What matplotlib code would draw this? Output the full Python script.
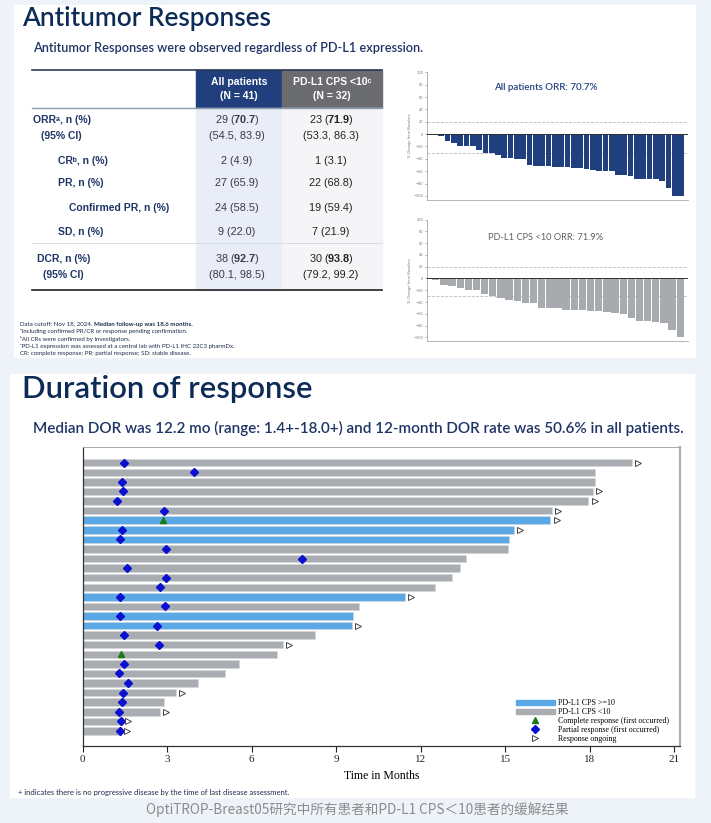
import matplotlib
matplotlib.use("Agg")
import matplotlib.pyplot as plt
from matplotlib.patches import Rectangle, Patch
from matplotlib.lines import Line2D

plt.rcParams['mathtext.fontset'] = 'custom'
plt.rcParams['mathtext.rm'] = 'Liberation Sans'
plt.rcParams['mathtext.bf'] = 'Liberation Sans:bold'

W, H = 711, 823

# ---------------- data ----------------
row_labels = ["ORRᵃ, n (%)", "(95% CI)", "CRᵇ, n (%)", "PR, n (%)",
              "Confirmed PR, n (%)", "SD, n (%)", "DCR, n (%)", "(95% CI)"]
all_vals = [r"29 ($\mathbf{70.7}$)", "(54.5, 83.9)", "2 (4.9)", "27 (65.9)",
            "24 (58.5)", "9 (22.0)", r"38 ($\mathbf{92.7}$)", "(80.1, 98.5)"]
low_vals = [r"23 ($\mathbf{71.9}$)", "(53.3, 86.3)", "1 (3.1)", "22 (68.8)",
            "19 (59.4)", "7 (21.9)", r"30 ($\mathbf{93.8}$)", "(79.2, 99.2)"]
col_heads = [("All patients", "(N = 41)"), ("PD-L1 CPS <10ᶜ", "(N = 32)")]

# best % change from baseline (waterfall)
wf_all = [-2, -3, -11, -15, -19, -19, -20, -26, -30, -30, -34, -38, -38, -41,
          -41, -50, -51, -51, -52, -53, -53, -54, -55, -55, -56, -58, -59,
          -59, -60, -66, -67, -68, -72, -72, -73, -73, -76, -87, -100, -100]
wf_low = [-3, -11, -13, -17, -20, -20, -27, -30, -34, -37, -38, -41, -42,
          -51, -51, -51, -53, -53, -53, -56, -56, -57, -59, -60, -67, -73,
          -73, -74, -75, -87, -100]

# duration of response swimmer plot (months), top row first
dor_end = [19.5, 18.2, 18.2, 18.1, 17.95, 16.65, 16.6, 15.3, 15.15, 15.1,
           13.6, 13.4, 13.1, 12.5, 11.45, 9.8, 9.6, 9.55, 8.25, 7.1, 6.9,
           5.55, 5.05, 4.1, 3.3, 2.9, 2.75, 1.4, 1.35]
cps_high = [0, 0, 0, 0, 0, 0, 1, 1, 1, 0, 0, 0, 0, 0, 1, 0, 1, 1, 0, 0, 0,
            0, 0, 0, 0, 0, 0, 0, 0]
first_resp = [1.48, 3.95, 1.40, 1.44, 1.21, 2.89, 2.86, 1.40, 1.34, 2.95,
              7.79, 1.58, 2.95, 2.75, 1.34, 2.93, 1.34, 2.65, 1.48, 2.71,
              1.38, 1.48, 1.31, 1.60, 1.44, 1.40, 1.31, 1.38, 1.34]
resp_type = ['PR'] * 29
resp_type[6] = 'CR'
resp_type[20] = 'CR'
ongoing = [1, 0, 0, 1, 1, 1, 1, 1, 0, 0, 0, 0, 0, 0, 1, 0, 0, 1, 0, 1, 0,
           0, 0, 0, 1, 0, 1, 1, 1]

navy = '#0d2b57'
lab_navy = '#1f3566'

fig = plt.figure(figsize=(W / 100, H / 100), dpi=100)
fig.patch.set_facecolor('#eef3f9')

bg = fig.add_axes([0, 0, 1, 1])
bg.set_xlim(0, W)
bg.set_ylim(H, 0)
bg.axis('off')


def box(x0, y0, x1, y1):
    return [x0 / W, 1 - y1 / H, (x1 - x0) / W, (y1 - y0) / H]


# white panels
bg.add_patch(Rectangle((14, 5), 681, 352, color='white', zorder=0))
bg.add_patch(Rectangle((10, 374), 684, 423, color='white', zorder=0))

# titles
bg.text(22, 18.5, "Antitumor Responses", fontsize=18.8, family='Lato', color=navy,
        va='center', fontweight='semibold')
bg.text(33, 48, "Antitumor Responses were observed regardless of PD-L1 expression.",
        fontsize=9.15, family='Lato', color=lab_navy, va='center', fontweight='semibold')
bg.text(22, 389, "Duration of response", fontsize=22.3, family='Lato', color=navy,
        va='center', fontweight='semibold')
bg.text(33, 428, "Median DOR was 12.2 mo (range: 1.4+-18.0+) and 12-month DOR rate was 50.6% in all patients.",
        fontsize=11, family='Lato', color=lab_navy, va='center', fontweight='semibold')

# ---------------- table ----------------
tx0, tx1 = 32, 382
c1, c2, c3 = 195.7, 282.3, 381.7
bg.add_patch(Rectangle((c1, 70), c2 - c1, 37.7, color='#203f7c', zorder=1))
bg.add_patch(Rectangle((c2, 70), c3 - c2, 37.7, color='#6b6c6f', zorder=1))
bg.add_patch(Rectangle((c1, 107.7), c2 - c1, 182.6, color='#e8edf7', zorder=1))
bg.add_patch(Rectangle((c2, 107.7), c3 - c2, 182.6, color='#f5f5f7', zorder=1))
bg.plot([tx0, tx1], [70, 70], color='#2b3b55', lw=1.2, zorder=2)
bg.plot([tx0, tx1], [107.7, 107.7], color='#8d99ae', lw=1.0, zorder=2)
bg.plot([tx0, tx1], [243.3, 243.3], color='#d3d7dd', lw=0.6, zorder=2)
bg.plot([tx0, tx1], [290.3, 290.3], color='#222222', lw=1.2, zorder=2)

hfont = dict(family=['Liberation Sans', 'DejaVu Sans'], fontsize=7.5,
             fontweight='bold', color='white', ha='center', va='center', zorder=3)
for (l1, l2), cx in zip(col_heads, [(c1 + c2) / 2, (c2 + c3) / 2]):
    bg.text(cx, 82.3, l1, **hfont)
    bg.text(cx, 95.7, l2, **hfont)

row_y = [120, 136, 160.7, 183.3, 207.7, 232.3, 259.3, 275]
row_x = [33.3, 40.7, 58.3, 58.3, 69.3, 58.3, 37.3, 42.7]
for lab, a, b, x, y in zip(row_labels, all_vals, low_vals, row_x, row_y):
    bg.text(x, y, lab, family=['Liberation Sans', 'DejaVu Sans'], fontsize=7.5,
            fontweight='bold', color=lab_navy, va='center', zorder=3)
    bg.text((c1 + c2) / 2 - 2, y, a, family='Liberation Sans', fontsize=7.8,
            color='#3a3a44', ha='center', va='center', zorder=3)
    bg.text((c2 + c3) / 2 - 1, y, b, family='Liberation Sans', fontsize=7.8,
            color='#222222', ha='center', va='center', zorder=3)

# footnotes
fn = dict(family=['Lato', 'DejaVu Sans'], fontsize=4.45, color='#1c2b4a', va='center')
r = fig.canvas.get_renderer()
t = bg.text(20, 324, "Data cutoff: Nov 18, 2024.", **fn)
w = t.get_window_extent(r).width
bg.text(20 + w + 1.5, 324, "Median follow-up was 18.6 months.", fontweight='bold', **fn)
notes = ["ᵃIncluding confirmed PR/CR or response pending confirmation.",
         "ᵇAll CRs were confirmed by investigators.",
         "ᶜPD-L1 expression was assessed at a central lab with PD-L1 IHC 22C3 pharmDx.",
         "CR: complete response; PR: partial response; SD: stable disease."]
for i, s in enumerate(notes):
    bg.text(20, 331.5 + 7.4 * i, s, **fn)


# ---------------- waterfalls ----------------
def waterfall(rect, vals, color, title, tcolor, ty, tw, tsize):
    ax = fig.add_axes(rect)
    x = list(range(len(vals)))
    ax.bar(x, vals, width=0.9, color=color, zorder=2)
    ax.axhline(0, color='#333333', lw=0.7, zorder=3)
    ax.axhline(20, color='#bbbbbb', lw=0.6, ls='--', zorder=1)
    ax.axhline(-30, color='#bbbbbb', lw=0.6, ls='--', zorder=1)
    ax.set_yticks(range(-100, 101, 20))
    ax.set_xticks([])
    ax.tick_params(axis='y', labelsize=2.6, length=1.5, width=0.4,
                   colors='#777777', pad=1)
    ax.set_ylabel("% Change from Baseline", fontsize=2.6, color='#777777', labelpad=1)
    for s in ['top', 'right']:
        ax.spines[s].set_visible(False)
    for s in ['left', 'bottom']:
        ax.spines[s].set_color('#999999')
        ax.spines[s].set_linewidth(0.5)
    unit = (rect[2] * W - 9) / len(vals)
    ax.set_xlim(-0.5 - 5 / unit, len(vals) - 0.5 + 4 / unit)
    ax.patch.set_alpha(0)
    bg.text(546, ty, title, fontsize=tsize, family='Lato', color=tcolor,
            ha='center', va='center', fontweight=tw)
    return ax


a1 = waterfall(box(426.7, 72.3, 688.3, 200), wf_all, '#1f3f7f',
               "All patients ORR: 70.7%", '#23407e', 87, 'semibold', 7.0)
a1.set_ylim(-106.7, 100)
a2 = waterfall(box(426.7, 219.7, 688.3, 340.7), wf_low, '#a7aaae',
               "PD-L1 CPS <10 ORR: 71.9%", '#5f6063', 237, 'normal', 6.7)
a2.set_ylim(-105.8, 100)

# ---------------- swimmer plot ----------------
sw = fig.add_axes(box(82.5, 447.3, 680, 746))
n = len(dor_end)
rows = list(range(n))
bar_cols = ['#5aa8e6' if c else '#a9adb1' for c in cps_high]
sw.barh(rows, dor_end, height=0.78, color=bar_cols, edgecolor='#d5d8db',
        linewidth=0.4, zorder=2)
pr_x = [f for f, tp in zip(first_resp, resp_type) if tp == 'PR']
pr_y = [i for i, tp in zip(rows, resp_type) if tp == 'PR']
cr_x = [f for f, tp in zip(first_resp, resp_type) if tp == 'CR']
cr_y = [i for i, tp in zip(rows, resp_type) if tp == 'CR']
sw.plot(pr_x, pr_y, 'D', color='#0a0fd0', ms=3.6, ls='none', zorder=4)
sw.plot(cr_x, cr_y, '^', color='#1b7a1b', ms=4.2, ls='none', zorder=4)
on_x = [e + 0.22 for e, o in zip(dor_end, ongoing) if o]
on_y = [i for i, o in zip(rows, ongoing) if o]
sw.plot(on_x, on_y, '>', mfc='white', mec='#444444', mew=0.7, ms=4,
        ls='none', zorder=4)
sw.set_xlim(0, 21.2)
sw.set_ylim(n - 1 + 1.57, -1.61)
sw.set_yticks([])
sw.set_xticks(range(0, 22, 3))
sw.tick_params(axis='x', labelsize=8, length=4, width=0.8, direction='out',
               pad=2.5, colors='#222222')
for lb in sw.get_xticklabels():
    lb.set_family('Liberation Serif')
sw.set_xlabel("Time in Months", fontsize=8.5, family='Liberation Serif',
              labelpad=4)
for s in ['left', 'bottom']:
    sw.spines[s].set_color('#333333')
    sw.spines[s].set_linewidth(0.9)
sw.spines['top'].set_color('#aaaaaa')
sw.spines['top'].set_linewidth(0.7)
sw.spines['right'].set_color('#b0b0b0')
sw.spines['right'].set_linewidth(1.6)

handles = [Patch(color='#5aa8e6'), Patch(color='#a9adb1'),
           Line2D([], [], marker='^', color='#1b7a1b', ls='none', ms=4.2),
           Line2D([], [], marker='D', color='#0a0fd0', ls='none', ms=3.6),
           Line2D([], [], marker='>', mfc='white', mec='#444444', mew=0.7,
                  ls='none', ms=4)]
labels = ["PD-L1 CPS >=10", "PD-L1 CPS <10", "Complete response (first occurred)",
          "Partial response (first occurred)", "Response ongoing"]
sw.legend(handles, labels, loc='lower left', bbox_to_anchor=(0.725, 0.01),
          frameon=False, borderpad=0, borderaxespad=0, handlelength=4.9,
          handleheight=0.6, handletextpad=0.35, labelspacing=0.12,
          prop={'family': 'Liberation Serif', 'size': 5.8})

bg.text(18, 792, "+ indicates there is no progressive disease by the time of last disease assessment.",
        family='Lato', fontsize=5.5, color='#1c2b4a', va='center')

bg.text(357, 810, "OptiTROP-Breast05研究中所有患者和PD-L1 CPS＜10患者的缓解结果",
        family=['Noto Sans CJK SC', 'DejaVu Sans'], fontsize=9.8, color='#8c8c8c',
        ha='center', va='center', fontweight='light')

fig.savefig("out.png", dpi=100, facecolor=fig.get_facecolor())
